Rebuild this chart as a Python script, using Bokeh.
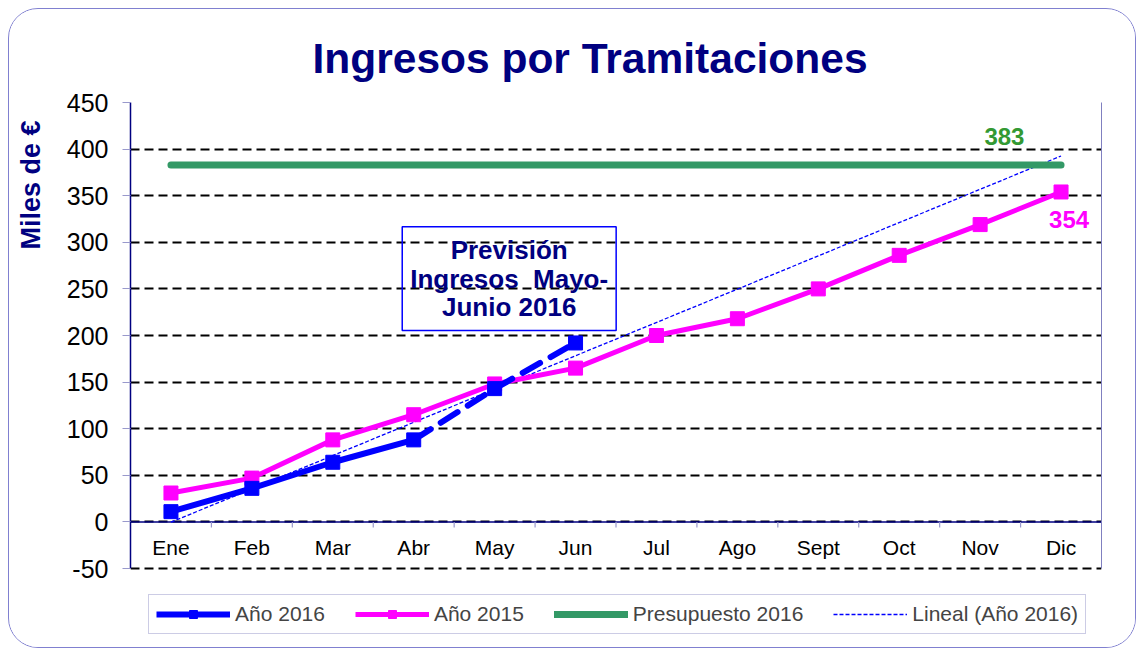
import math
import numpy as np
from bokeh.plotting import figure
from bokeh.models import (Range1d, FixedTicker, LinearAxis, Legend, LegendItem,
                          Label, Span, Title)
from bokeh.core.properties import value
from bokeh.embed import file_html
from bokeh.resources import INLINE

# ---------------- data ----------------
months = ["Ene", "Feb", "Mar", "Abr", "May", "Jun", "Jul", "Ago", "Sept", "Oct", "Nov", "Dic"]
actual_2016 = [11, 36, 64, 88]              # Ene-Abr (real)
forecast_2016 = [88, 143, 192]              # Abr-Jun (previsión)
values_2015 = [31, 47, 88, 115, 148, 165, 200, 218, 250, 286, 319, 354]
budget_2016 = 383
y_ticks = [-50, 0, 50, 100, 150, 200, 250, 300, 350, 400, 450]

title_text = "Ingresos por Tramitaciones"
y_label = "Miles de €"
note_text = "Previsión\nIngresos\u00a0 Mayo-\nJunio 2016"
legend_labels = ["Año 2016", "Año 2015", "Presupuesto 2016", "Lineal (Año 2016)"]

# ---------------- styles ----------------
FONT = "Liberation Sans"
NAVY = "#000080"
BLUE = "#0000ff"
MAGENTA = "#ff00ff"
GREEN = "#339966"
GREEN_TXT = "#339933"
LAVENDER = "#9999cc"

W, H = 1128, 640
TOP, BOTTOM, LEFT, RIGHT = 93, 4, 121, 36
PX_PER_UNIT = 466 / 500.0           # vertical scale of the value axis
frame_h = H - TOP - BOTTOM
y_start = y_ticks[-1] - frame_h / PX_PER_UNIT   # extra room below -50 for the legend

xs = list(range(1, len(months) + 1))
x_act = xs[:len(actual_2016)]
x_fc = xs[len(actual_2016) - 1:len(actual_2016) - 1 + len(forecast_2016)]

# linear trend of the 2016 series (as Excel's "Lineal" trendline)
x16 = x_act + x_fc[1:]
y16 = actual_2016 + forecast_2016[1:]
slope, intercept = np.polyfit(x16, y16, 1)
trend_x = [xs[0], xs[-1]]
trend_y = [slope * x + intercept for x in trend_x]

p = figure(width=W, height=H,
           x_range=Range1d(0.5, len(months) + 0.5), y_range=Range1d(y_start, y_ticks[-1]),
           x_axis_location=None, output_backend="svg", toolbar_location=None,
           min_border_left=LEFT, min_border_right=RIGHT, min_border_top=TOP,
           min_border_bottom=BOTTOM)
p.styles = {"border": "1px solid #8080d0", "border-radius": "30px", "overflow": "hidden",
            "margin-left": "8px", "margin-top": "8px"}
p.outline_line_color = None
p.background_fill_color = "white"
p.border_fill_color = "white"

# title
p.title.text = title_text
p.title.text_font = FONT
p.title.text_font_size = "42.5px"
p.title.text_font_style = "bold"
p.title.text_color = NAVY
p.title.align = "left"
p.title.offset = 182
p.title.standoff = 41

# y axis
ax = p.yaxis[0]
ax.ticker = FixedTicker(ticks=y_ticks)
ax.bounds = (y_ticks[0], y_ticks[-1])
ax.major_label_overrides = {t: str(t) for t in y_ticks}
ax.major_label_text_font = FONT
ax.major_label_text_font_size = "25px"
ax.major_label_text_color = "black"
ax.axis_line_color = NAVY
ax.axis_line_width = 1.5
ax.major_tick_out = 8
ax.major_tick_in = 0
ax.major_tick_line_color = LAVENDER
ax.minor_tick_line_color = None
ax.major_label_standoff = 14

# invisible spacer between the tick labels and the axis title
spacer = LinearAxis(ticker=FixedTicker(ticks=[y_ticks[0]]), axis_line_color=None,
                    major_tick_out=18, major_tick_in=0, major_tick_line_color=None,
                    minor_tick_line_color=None, major_label_standoff=0,
                    major_label_overrides={y_ticks[0]: ""})
p.add_layout(spacer, "left")
p.add_layout(Title(text=y_label, align="right", offset=18, standoff=0,
                   text_font=FONT, text_font_size="27px", text_font_style="bold",
                   text_color=NAVY), "left")

right_axis = LinearAxis(ticker=FixedTicker(ticks=[]), axis_line_color="#8080c0",
                        bounds=(y_ticks[0], y_ticks[-1]),
                        major_tick_line_color=None, minor_tick_line_color=None,
                        major_label_text_font_size="0px")
p.add_layout(right_axis, "right")

p.ygrid.ticker = FixedTicker(ticks=y_ticks)
p.ygrid.grid_line_color = "black"
p.ygrid.grid_line_width = 2
p.ygrid.grid_line_dash = "9 5"
p.xgrid.visible = False

p.add_layout(Span(location=0, dimension="width", line_color=NAVY, line_width=1.5, level="underlay"))

# category ticks at boundaries and labels
bounds = [x + 0.5 for x in xs[:-1]]
p.segment(x0=bounds, y0=[0] * len(bounds), x1=bounds, y1=[-6] * len(bounds),
          line_color=LAVENDER, line_width=1.2)
p.text(x=xs, y=[-27] * len(xs), text=months, text_font=value(FONT), text_font_size="21px",
       text_align="center", text_baseline="middle", text_color="black")

# series
r_trend = p.line(trend_x, trend_y, line_color=BLUE, line_width=1.3, line_dash="4 2")
r_budget = p.line([xs[0], xs[-1]], [budget_2016, budget_2016], line_color=GREEN,
                  line_width=7, line_cap="round")
r15_l = p.line(xs, values_2015, line_color=MAGENTA, line_width=5)
r15_m = p.scatter(xs, values_2015, marker="square", size=14, fill_color=MAGENTA, line_color=MAGENTA)
r16_fc = p.line(x_fc, forecast_2016, line_color=BLUE, line_width=6, line_dash="20 12",
                line_cap="round")
p.scatter(x_fc[1:], forecast_2016[1:], marker="square", size=14, fill_color=BLUE, line_color=BLUE)
r16_l = p.line(x_act, actual_2016, line_color=BLUE, line_width=6)
r16_m = p.scatter(x_act, actual_2016, marker="square", size=14, fill_color=BLUE, line_color=BLUE)

# value labels
p.add_layout(Label(x=xs[-1] - 0.7, y=budget_2016 + 31, text=str(budget_2016),
                   text_font=FONT, text_font_size="24px", text_font_style="bold",
                   text_color=GREEN_TXT, text_align="center", text_baseline="middle"))
p.add_layout(Label(x=xs[-1] + 0.1, y=values_2015[-1] - 29, text=str(values_2015[-1]),
                   text_font=FONT, text_font_size="24px", text_font_style="bold",
                   text_color=MAGENTA, text_align="center", text_baseline="middle"))

# forecast note
p.add_layout(Label(x=5.18, y=261, text=note_text, text_font=FONT, text_font_size="26px",
                   text_font_style="bold", text_color=NAVY, text_align="center",
                   text_baseline="middle", text_line_height=0.96,
                   border_line_color=BLUE, border_line_width=1.5,
                   background_fill_color=None, padding=8))

legend = Legend(items=[LegendItem(label=legend_labels[0], renderers=[r16_l, r16_m]),
                       LegendItem(label=legend_labels[1], renderers=[r15_l, r15_m]),
                       LegendItem(label=legend_labels[2], renderers=[r_budget]),
                       LegendItem(label=legend_labels[3], renderers=[r_trend])],
                orientation="horizontal", location=(18, 11),
                label_text_font=FONT, label_text_font_size="21px",
                glyph_width=74, glyph_height=20, label_standoff=5, spacing=30,
                padding=7, margin=0, border_line_color=LAVENDER, border_line_width=1,
                background_fill_color="white", background_fill_alpha=1)
p.add_layout(legend)

open("out.html", "w").write(file_html(p, INLINE))
